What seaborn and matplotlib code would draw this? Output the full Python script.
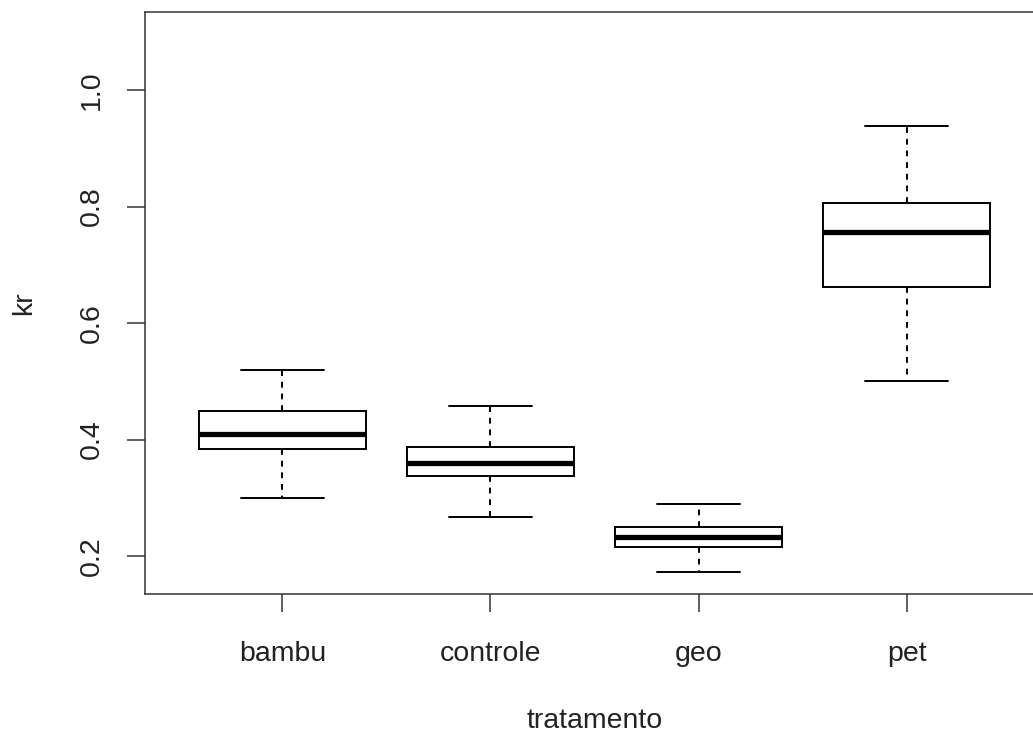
import pandas as pd
import numpy as np
import matplotlib
matplotlib.use("Agg")
import matplotlib.pyplot as plt
import seaborn as sns

# five-number summaries: min, q1, median, q3, max
tratamentos = ["bambu", "controle", "geo", "pet"]
bambu = [0.300, 0.384, 0.409, 0.449, 0.519]
controle = [0.267, 0.337, 0.360, 0.387, 0.457]
geo = [0.173, 0.215, 0.233, 0.250, 0.289]
pet = [0.500, 0.662, 0.756, 0.806, 0.938]
yticks = [0.2, 0.4, 0.6, 0.8, 1.0]

rows = []
for nome, vals in zip(tratamentos, [bambu, controle, geo, pet]):
    for v in vals:
        rows.append({"tratamento": nome, "kr": v})
df = pd.DataFrame(rows)

sns.set_style("white")
plt.rcParams["font.family"] = ["Liberation Sans", "DejaVu Sans"]

fig = plt.figure(figsize=(10.33, 7.35), dpi=100)
ax = fig.add_axes([145 / 1033, 1 - 594 / 735, (1044 - 145) / 1033, (594 - 12) / 735])

sns.boxplot(data=df, x="tratamento", y="kr", order=tratamentos, ax=ax,
            color="white", linecolor="black", linewidth=1.4, width=0.8,
            whis=(0, 100), showfliers=False,
            medianprops={"linewidth": 3.8, "color": "black"},
            whiskerprops={"linestyle": (0, (3, 3)), "linewidth": 1.4},
            capprops={"linewidth": 1.4})

ax.set_xlim(-0.66, 3.66)
ax.set_ylim(0.135, 1.134)
ax.set_yticks(yticks)
ax.set_yticklabels([f"{t:.1f}" for t in yticks], rotation=90, va="center")
ax.tick_params(axis="both", direction="out", length=13, width=1.1,
               color="#333333", labelsize=20.5, labelcolor="#222222",
               left=True, bottom=True)
ax.tick_params(axis="x", pad=21)
ax.tick_params(axis="y", pad=16)
ax.set_xlabel("tratamento", fontsize=20.5, color="#222222", labelpad=29)
ax.set_ylabel("kr", fontsize=20.5, color="#222222", labelpad=30)

for s in ax.spines.values():
    s.set_color("#333333")
    s.set_linewidth(1.1)

fig.savefig("out.png", dpi=100)
